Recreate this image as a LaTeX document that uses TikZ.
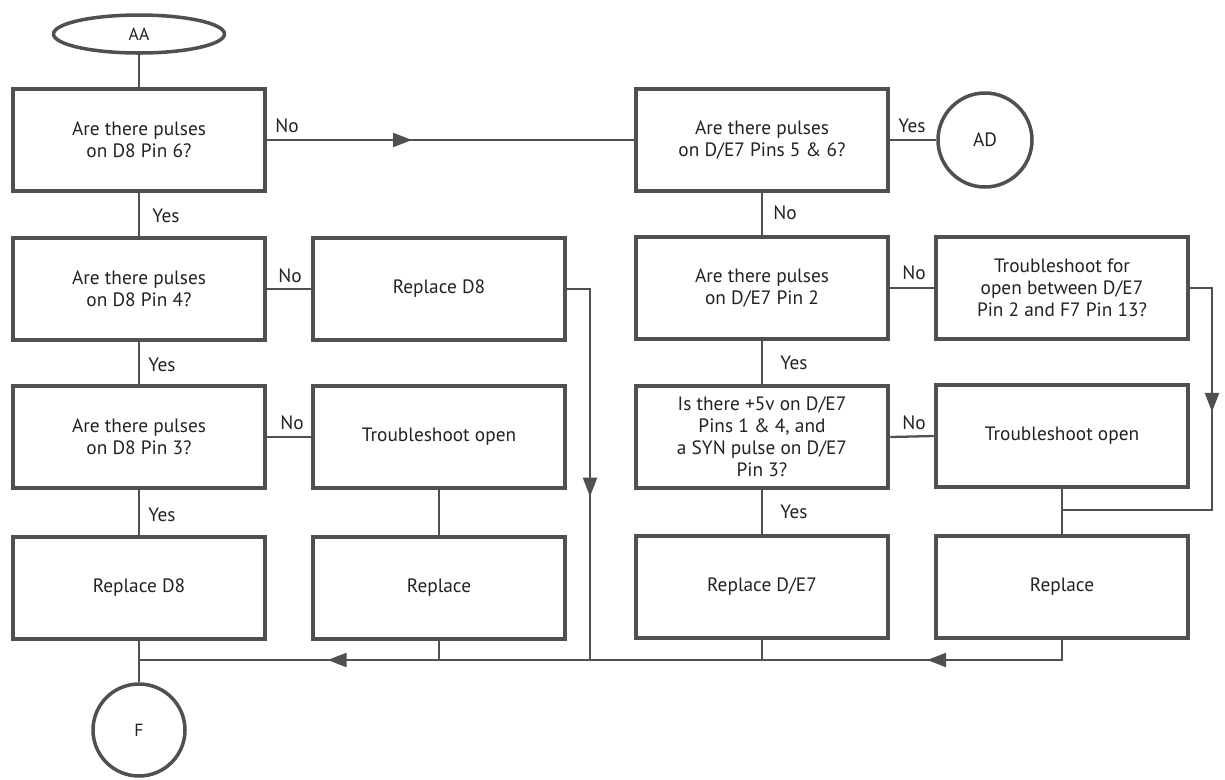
\documentclass[tikz,border=0pt]{standalone}
\usepackage{fontspec}
\setmainfont{PT Sans}
\usetikzlibrary{shapes.geometric,arrows.meta,decorations.markings}

\definecolor{ink}{HTML}{505050}
\definecolor{txt}{HTML}{222222}

\begin{document}
\begin{tikzpicture}[
  x=0.02cm, y=-0.02cm,
  font=\fontsize{11}{12.5}\selectfont,
  text=txt,
  blk/.style={draw=ink, line width=2.6pt, minimum width=5.04cm, minimum height=2.04cm, align=center, inner sep=2pt},
  term/.style={circle, draw=ink, line width=2pt, minimum size=#1, inner sep=0pt},
  lbl/.style={anchor=west, inner sep=0pt},
  conn/.style={color=ink, line width=1.3pt},
  arrat/.style={postaction={decorate, decoration={markings, mark=at position #1 with {\arrow{Triangle[length=3.8mm,width=2.8mm]}}}}}
]
\useasboundingbox (0,0) rectangle (1225,779);

% Start and end points
\node[ellipse, draw=ink, line width=2pt, minimum width=3.42cm, minimum height=0.76cm, inner sep=0pt, font=\fontsize{10}{11}\selectfont] (aa) at (139,34) {AA};
\node[term=1.88cm] (ad) at (985,140) {AD};
\node[term=1.84cm, font=\fontsize{10}{11}\selectfont] (f) at (139,730) {F};

% Left column
\node[blk] (b1) at (139,140) {Are there pulses\\on D8 Pin 6?};
\node[blk] (l2) at (139,289) {Are there pulses\\on D8 Pin 4?};
\node[blk] (l3) at (139,437) {Are there pulses\\on D8 Pin 3?};
\node[blk] (l4) at (139,588) {Replace D8};

% Middle column
\node[blk] (m2) at (439,289) {Replace D8};
\node[blk] (m3) at (439,437) {Troubleshoot open};
\node[blk] (m4) at (439,588) {Replace};

% Right side
\node[blk] (r1) at (762,140) {Are there pulses\\on D/E7 Pins 5 \& 6?};
\node[blk] (r2) at (762,288) {Are there pulses\\on D/E7 Pin 2};
\node[blk] (r4) at (762,437) {Is there +5v on D/E7\\Pins 1 \& 4, and\\a SYN pulse on D/E7\\Pin 3?};
\node[blk] (r5) at (762,587) {Replace D/E7};
\node[blk] (r3) at (1062,288) {Troubleshoot for\\open between D/E7\\Pin 2 and F7 Pin 13?};
\node[blk] (r6) at (1062,436) {Troubleshoot open};
\node[blk] (r7) at (1062,587) {Replace};

% Yes / No labels
\node[lbl] (n1) at (275,126) {No};
\node[lbl] (y1) at (152,216) {Yes};
\node[lbl] (n2) at (278,276) {No};
\node[lbl] (y2) at (148,365) {Yes};
\node[lbl] (n3) at (280,423) {No};
\node[lbl] (y3) at (148,515) {Yes};
\node[lbl] (n4) at (773,213) {No};
\node[lbl] (y4) at (898,126) {Yes};
\node[lbl] (n5) at (902,273) {No};
\node[lbl] (y5) at (780,363) {Yes};
\node[lbl] (n6) at (902,423) {No};
\node[lbl] (y6) at (780,512) {Yes};

% Join points
\coordinate (bus) at (590,660);
\coordinate (loopc) at (1212,510);
\coordinate (loopj) at (r6.south |- loopc);

% Connectors
\draw[conn] (aa) -- (b1.north);
\draw[conn, arrat=0.395] (b1.east) -- (b1.east -| r1.west);
\draw[conn] (r1.east) -- (ad);
\draw[conn] (b1.south) -- (l2.north);
\draw[conn] (l2.south) -- (l3.north);
\draw[conn] (l3.south) -- (l4.north);
\draw[conn] (l4.south) -- (f.north);
\draw[conn] (l2.east) -- (m2.west);
\draw[conn] (l3.east) -- (m3.west);
\draw[conn] (m3.south) -- (m4.north);
\draw[conn, arrat=0.585] (m2.east) -| (bus);
\draw[conn] (r1.south) -- (r2.north);
\draw[conn] (r2.south) -- (r4.north);
\draw[conn] (r4.south) -- (r5.north);
\draw[conn] (r2.east) -- (r3.west);
\draw[conn] (r4.east) -- (r6.west);
\draw[conn] (r6.south) -- (r7.north);
\draw[conn, arrat=0.37] (r3.east) -| (loopc) -- (loopj);
\draw[conn, arrat=0.164, arrat=0.80] (r7.south) |- (l4.south |- bus);
\draw[conn] (r5.south) -- (r5.south |- bus);
\draw[conn] (m4.south) -- (m4.south |- bus);

\end{tikzpicture}
\end{document}
